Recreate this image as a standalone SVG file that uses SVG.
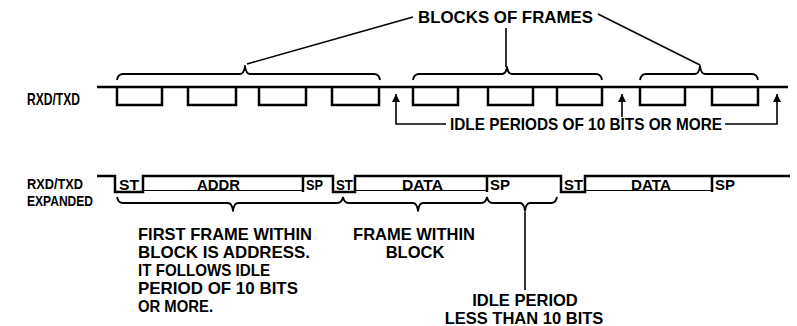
<svg xmlns="http://www.w3.org/2000/svg" width="797" height="326" viewBox="0 0 797 326">
<style>
text{font-family:"Liberation Sans",Arial,sans-serif;font-weight:bold;fill:#000}
.lbl{font-size:16.5px}
.sm{font-size:15px}
.cell{font-size:15px}
.w{fill:none;stroke:#000;stroke-width:2.5;stroke-linejoin:miter}
.b{fill:none;stroke:#000;stroke-width:1.8;stroke-linejoin:round}
.thin{fill:none;stroke:#000;stroke-width:1.2}
.c{fill:none;stroke:#000;stroke-width:1.6}
</style>
<defs>
<marker id="ah" viewBox="0 0 10 10" refX="10" refY="5" markerWidth="9" markerHeight="8" markerUnits="userSpaceOnUse" orient="auto-start-reverse">
<path d="M0,0 L10,5 L0,10 Z" fill="#000"/>
</marker>
</defs>
<rect width="797" height="326" fill="#fff"/>

<g id="label-rxd-txd">
<text class="lbl" x="27" y="105" textLength="53" lengthAdjust="spacingAndGlyphs">RXD/TXD</text>
</g>
<g id="label-expanded">
<text class="sm" x="27" y="189" textLength="56" lengthAdjust="spacingAndGlyphs">RXD/TXD</text>
<text class="sm" x="27" y="206" textLength="66" lengthAdjust="spacingAndGlyphs">EXPANDED</text>
</g>

<g id="waveform-top">
<path class="w" d="M97,87 H788"/>
<path class="w" d="M117,87 V105 H162 V87 M188,87 V105 H236 V87 M259,87 V105 H306 V87 M332,87 V105 H379 V87 M413,87 V105 H458 V87 M488,87 V105 H533 V87 M557,87 V105 H602 V87 M640,87 V105 H685 V87 M712,87 V105 H758 V87"/>
</g>

<g id="braces-top">
<path class="b" d="M117,80 Q118,74 123,74 H240 Q244,74 245,66 Q246,74 250,74 H374 Q379,74 380,80"/>
<path class="b" d="M413,80 Q414,74 419,74 H502 Q506,74 507,67 Q508,74 512,74 H596 Q601,74 602,80"/>
<path class="b" d="M640,80 Q641,74 646,74 H695 Q699,74 700,66 Q701,74 705,74 H752 Q757,74 758,80"/>
</g>

<g id="label-blocks">
<text class="lbl" x="418" y="23" textLength="175" lengthAdjust="spacingAndGlyphs">BLOCKS OF FRAMES</text>
</g>

<g id="label-idle">
<text class="lbl" x="450" y="130" textLength="272" lengthAdjust="spacingAndGlyphs">IDLE PERIODS OF 10 BITS OR MORE</text>
</g>

<g id="waveform-bottom">
<path class="w" d="M97,176 H115 V192 H143 V176 H303 V192 M303,176 H333 V192 H355 V176 H487 V192 M487,176 H561 V192 H585 V176 H712 V192 M712,176 H790"/>
<path class="thin" d="M143,190.5 H303 M355,190.5 H487 M585,190.5 H712"/>
<text class="cell" x="119" y="190" textLength="20" lengthAdjust="spacingAndGlyphs">ST</text>
<text class="cell" x="197" y="190" textLength="43" lengthAdjust="spacingAndGlyphs">ADDR</text>
<text class="cell" x="306" y="190" textLength="17" lengthAdjust="spacingAndGlyphs">SP</text>
<text class="cell" x="336" y="190" textLength="17" lengthAdjust="spacingAndGlyphs">ST</text>
<text class="cell" x="402" y="190" textLength="41" lengthAdjust="spacingAndGlyphs">DATA</text>
<text class="cell" x="490" y="190" textLength="20" lengthAdjust="spacingAndGlyphs">SP</text>
<text class="cell" x="564" y="190" textLength="19" lengthAdjust="spacingAndGlyphs">ST</text>
<text class="cell" x="631" y="190" textLength="40" lengthAdjust="spacingAndGlyphs">DATA</text>
<text class="cell" x="715" y="190" textLength="20" lengthAdjust="spacingAndGlyphs">SP</text>
</g>

<g id="braces-bottom">
<path class="b" d="M117,197 Q118,203 123,203 H228 Q232,203 233,211 Q234,203 238,203 H337 Q342,203 343,197"/>
<path class="b" d="M343,197 Q344,203 349,203 H413 Q417,203 418,211 Q419,203 423,203 H481 Q486,203 487,197"/>
<path class="b" d="M487,197 Q488,203 493,203 H520 Q524,203 525,211 Q526,203 530,203 H551 Q556,203 557,197"/>
</g>

<g id="note-first-frame">
<text class="lbl" x="138" y="240" textLength="174" lengthAdjust="spacingAndGlyphs">FIRST FRAME WITHIN</text>
<text class="lbl" x="138" y="258" textLength="172" lengthAdjust="spacingAndGlyphs">BLOCK IS ADDRESS.</text>
<text class="lbl" x="138" y="276" textLength="132" lengthAdjust="spacingAndGlyphs">IT FOLLOWS IDLE</text>
<text class="lbl" x="138" y="294" textLength="160" lengthAdjust="spacingAndGlyphs">PERIOD OF 10 BITS</text>
<text class="lbl" x="138" y="312" textLength="75" lengthAdjust="spacingAndGlyphs">OR MORE.</text>
</g>

<g id="note-frame-within">
<text class="lbl" x="414" y="240" text-anchor="middle">FRAME WITHIN</text>
<text class="lbl" x="415" y="258" text-anchor="middle">BLOCK</text>
</g>

<g id="note-idle-less">
<text class="lbl" x="525" y="305.5" text-anchor="middle">IDLE PERIOD</text>
<text class="lbl" x="524" y="324" text-anchor="middle">LESS THAN 10 BITS</text>
</g>

<g id="connectors">
<path class="c" d="M247,64 L413,17"/>
<path class="c" d="M506,28 V67"/>
<path class="c" d="M598,14 L700,65"/>
<path class="c" d="M396,94 V124 H446" marker-start="url(#ah)"/>
<path class="c" d="M622,94 V117" marker-start="url(#ah)"/>
<path class="c" d="M777,94 V124 H725" marker-start="url(#ah)"/>
<path class="c" d="M525,212 V290"/>
</g>
</svg>
